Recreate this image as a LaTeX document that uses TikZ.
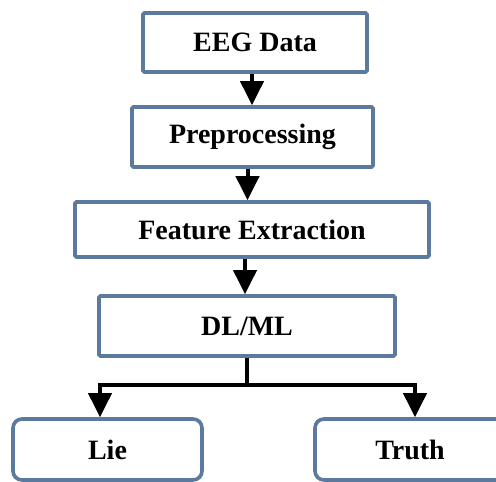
\documentclass[tikz,border=0pt]{standalone}
\usepackage{fontspec}
\setmainfont{Liberation Serif}
\usetikzlibrary{arrows.meta,positioning,calc}
\definecolor{boxblue}{RGB}{92,121,158}
\tikzset{
  flowbox/.style={draw=boxblue, line width=3.6pt, fill=white, rounded corners=1.5pt,
    inner sep=0pt, font=\fontsize{28}{32}\selectfont\bfseries},
  outbox/.style={flowbox, rounded corners=9pt},
  arr/.style={draw=black, line width=4pt, -{Triangle[length=24pt,width=23pt]}},
  conn/.style={draw=black, line width=4pt}
}
\begin{document}
\begin{tikzpicture}[x=1pt,y=-1pt]
\useasboundingbox (0,0) rectangle (496,482);
\clip (0,0) rectangle (496,482);
\fill[white] (0,0) rectangle (496,482);
\node[flowbox, minimum width=224pt, minimum height=59pt] (eeg) at (255,42.5) {EEG Data};
\node[flowbox, minimum width=241pt, minimum height=60pt] (pre) at (252.5,137) {Preprocessing};
\node[flowbox, minimum width=354pt, minimum height=55pt] (feat) at (252,229.5) {Feature Extraction};
\node[flowbox, minimum width=296pt, minimum height=60pt] (dl) at (247,326) {DL/ML};
\node[outbox, minimum width=189pt, minimum height=61pt] (lie) at (107.5,449.5) {Lie};
\node[outbox, minimum width=190pt, minimum height=61pt] (truth) at (410,449.5) {Truth};
\draw[arr] ([xshift=-3pt]eeg.south) -- ([xshift=-3pt]eeg.south |- pre.north);
\draw[arr] ([xshift=-5pt]pre.south) -- ([xshift=-5pt]pre.south |- feat.north);
\draw[arr] ([xshift=-7pt]feat.south) -- ([xshift=-7pt]feat.south |- dl.north);
\coordinate (split) at ($(dl.south)+(0,27)$);
\coordinate (lin) at ([xshift=-7.5pt]lie.north);
\coordinate (rin) at ([xshift=5pt]truth.north);
\coordinate (lturn) at (split -| lin);
\coordinate (rturn) at (split -| rin);
\draw[conn] (dl.south) -- (split);
\draw[arr] (split) -- (lturn) -- (lin);
\draw[arr] (split) -- (rturn) -- (rin);
\end{tikzpicture}
\end{document}
